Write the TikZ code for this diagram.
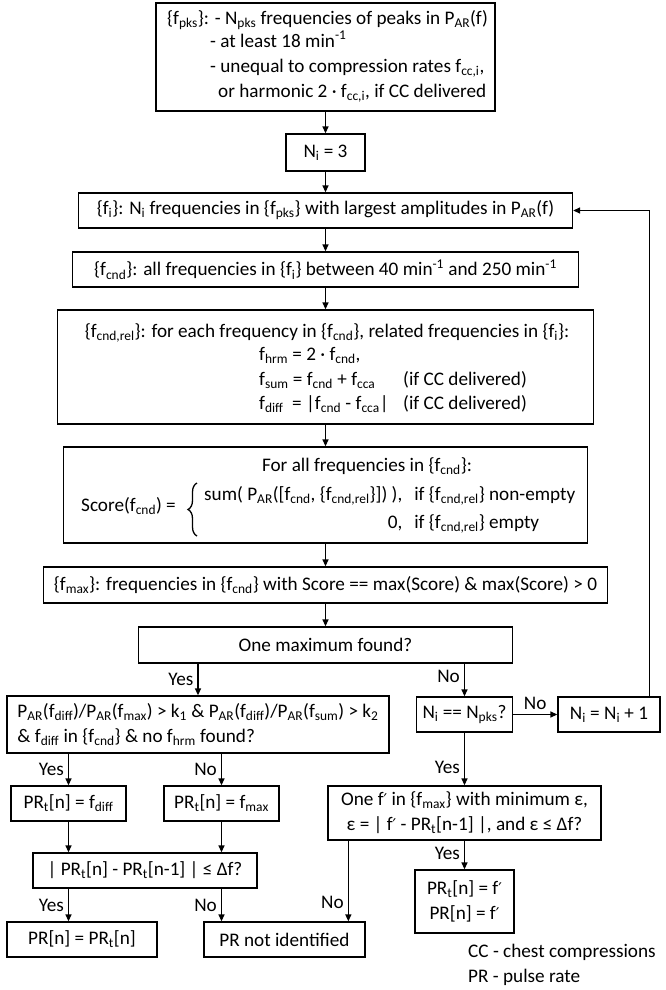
\documentclass[tikz,border=0pt]{standalone}
\usepackage{fontspec}
\setmainfont{Carlito}
\newfontfamily\djv{DejaVu Sans}
\usetikzlibrary{arrows.meta,calc,decorations.pathreplacing}
\newcommand{\sbs}[1]{\textsubscript{#1}}
\newcommand{\sps}[1]{\textsuperscript{#1}}
\newcommand{\prm}{{\djv\fontsize{16}{20}\selectfont ′}}
\begin{document}
\begin{tikzpicture}[x=1pt,y=-1pt,
  txt/.style={font=\fontsize{19.2}{25}\selectfont, inner sep=0pt},
  box/.style={txt, draw, line width=1.3pt, align=center},
  line/.style={anchor=mid west, txt},
  lbl/.style={txt, inner sep=4pt},
  arr/.style={line width=1.3pt, -{Triangle[length=7pt,width=6pt]}}
]
\useasboundingbox (0,0) rectangle (666,990);

% top box
\node[box, minimum width=339, minimum height=108] (b1) at (325.5,57) {};
\node[line] (b1l1) at (167,22) {\{f\sbs{pks}\}: - N\sbs{pks} frequencies of peaks in P\sbs{AR}(f)};
\node[line] (b1l2) at (210,45) {- at least 18 min\sps{-1}};
\node[line] (b1l3) at (210,70) {- unequal to compression rates f\sbs{cc,i},};
\node[line] (b1l4) at (218,95) {or harmonic 2 · f\sbs{cc,i}, if CC delivered};

\node[box, minimum width=79, minimum height=37] (ni) at (325.5,152.5) {N\sbs{i} = 3};
\node[box, minimum width=494, minimum height=35] (fi) at (325.5,210.5) {\{f\sbs{i}\}: N\sbs{i} frequencies in \{f\sbs{pks}\} with largest amplitudes in P\sbs{AR}(f)};
\node[box, minimum width=506, minimum height=35] (fcnd) at (325.5,269.5) {\{f\sbs{cnd}\}: all frequencies in \{f\sbs{i}\} between 40 min\sps{-1} and 250 min\sps{-1}};

% related frequencies box
\node[box, minimum width=536, minimum height=114] (rel) at (325.5,367) {};
\node[txt] (rel1) at (327,333) {\{f\sbs{cnd,rel}\}: for each frequency in \{f\sbs{cnd}\}, related frequencies in \{f\sbs{i}\}:};
\node[line] (rel2) at (259,358) {f\sbs{hrm} = 2 · f\sbs{cnd},};
\node[line] (rel3) at (259,383) {f\sbs{sum} = f\sbs{cnd} + f\sbs{cca}};
\node[line] (rel3b) at (403,383) {(if CC delivered)};
\node[line] (rel4) at (259,407) {f\sbs{diff}\ \ = |f\sbs{cnd} - f\sbs{cca}|};
\node[line] (rel4b) at (403,407) {(if CC delivered)};

% score box
\node[box, minimum width=524, minimum height=96] (score) at (325.5,495) {};
\node[txt] (sc1) at (367,466) {For all frequencies in \{f\sbs{cnd}\}:};
\node[line] (sc2) at (81,509) {Score(f\sbs{cnd}) =};
\coordinate (brtop) at (197,483);
\coordinate (brbot) at (197,536);
\draw[line width=1.3pt, decorate, decoration={brace, amplitude=9pt}] (brbot) -- (brtop);
\node[txt, anchor=west] (sc3) at (204,509) {\renewcommand{\arraystretch}{1.12}\begin{tabular}{@{}r@{\hspace{12pt}}l@{}}sum( P\sbs{AR}([f\sbs{cnd}, \{f\sbs{cnd,rel}\}]) ), & if \{f\sbs{cnd,rel}\} non-empty\\ 0, & if \{f\sbs{cnd,rel}\} empty\end{tabular}};

\node[box, minimum width=564, minimum height=36] (fmax) at (325.5,585) {\{f\sbs{max}\}: frequencies in \{f\sbs{cnd}\} with Score == max(Score) \& max(Score) > 0};
\node[box, minimum width=374, minimum height=36] (onemax) at (325.5,645) {One maximum found?};

\node[box, align=left, minimum width=382, minimum height=57] (bigleft) at (198,724.5) {P\sbs{AR}(f\sbs{diff})/P\sbs{AR}(f\sbs{max}) > k\sbs{1} \& P\sbs{AR}(f\sbs{diff})/P\sbs{AR}(f\sbs{sum}) > k\sbs{2}\\ \& f\sbs{diff} in \{f\sbs{cnd}\} \& no f\sbs{hrm} found?};
\node[box, minimum width=96, minimum height=35] (nieq) at (464.5,714.5) {N\sbs{i} == N\sbs{pks}?};
\node[box, minimum width=102, minimum height=35] (niinc) at (609,714.5) {N\sbs{i} = N\sbs{i} + 1};
\node[box, minimum width=273, minimum height=54] (onef) at (464.5,813) {One f\prm{} in \{f\sbs{max}\} with minimum ε,\\ ε = | f\prm{} - PR\sbs{t}[n-1] |, and ε ≤ Δf?};
\node[box, minimum width=99, minimum height=63] (prf) at (464.5,901.5) {PR\sbs{t}[n] = f\prm\\ PR[n] = f\prm};

\node[box, minimum width=115, minimum height=35] (prdiff) at (68.5,803.5) {PR\sbs{t}[n] = f\sbs{diff}};
\node[box, minimum width=115, minimum height=35] (prmax) at (221.5,803.5) {PR\sbs{t}[n] = f\sbs{max}};
\node[box, minimum width=224, minimum height=35] (check) at (145,870.5) {| PR\sbs{t}[n] - PR\sbs{t}[n-1] | ≤ Δf?};
\node[box, minimum width=150, minimum height=35] (prn) at (82,939.5) {PR[n] = PR\sbs{t}[n]};
\node[box, minimum width=161, minimum height=35] (prnot) at (284.5,939.5) {PR not identified};

\node[line] (leg1) at (468,955) {CC - chest compressions};
\node[line] (leg2) at (468,980) {PR - pulse rate};

% connectors
\draw[arr] (b1.south -| ni.north) -- (ni.north);
\draw[arr] (ni.south) -- (fi.north);
\draw[arr] (fi.south) -- (fcnd.north);
\draw[arr] (fcnd.south) -- (rel.north);
\draw[arr] (rel.south) -- (score.north);
\draw[arr] (score.south) -- (fmax.north);
\draw[arr] (fmax.south) -- (onemax.north);
\draw[arr] (onemax.south -| bigleft.north) -- node[lbl, left] {Yes} (bigleft.north);
\draw[arr] (onemax.south -| nieq.north) -- node[lbl, left, pos=0.4] {No} (nieq.north);
\draw[arr] (nieq.east) -- node[lbl, above] {No} (niinc.west);
\draw[arr] ([xshift=-11pt]niinc.north east) |- (fi.east);
\draw[arr] (nieq.south) -- node[lbl, left, pos=0.65] {Yes} (onef.north);
\draw[arr] (onef.south) -- node[lbl, left, pos=0.45] {Yes} (prf.north);
\draw[arr] ([xshift=21pt]onef.south west) -- node[lbl, left, pos=0.77] {No} ([xshift=21pt]onef.south west |- prnot.north);
\draw[arr] (bigleft.south -| prdiff.north) -- node[lbl, left] {Yes} (prdiff.north);
\draw[arr] (bigleft.south -| prmax.north) -- node[lbl, left] {No} (prmax.north);
\draw[arr] (prdiff.south) -- (check.north -| prdiff.south);
\draw[arr] (prmax.south) -- (check.north -| prmax.south);
\draw[arr] (check.south -| prdiff.south) -- node[lbl, left] {Yes} (prn.north -| prdiff.south);
\draw[arr] (check.south -| prmax.south) -- node[lbl, left] {No} (prnot.north -| prmax.south);
\end{tikzpicture}
\end{document}
